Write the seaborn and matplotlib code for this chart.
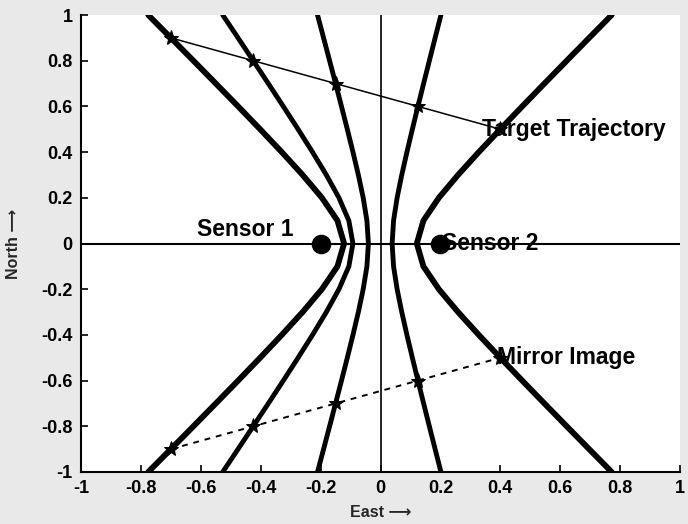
import numpy as np
import pandas as pd
import matplotlib
matplotlib.use("Agg")
import matplotlib.pyplot as plt
import seaborn as sns

# Sensor positions (East, North)
sensor_x = [-0.2, 0.2]
sensor_y = [0.0, 0.0]
sensor_names = ["Sensor 1", "Sensor 2"]

# Target trajectory samples
traj_x = [-0.7, -0.425, -0.15, 0.125, 0.4]
traj_y = [0.9, 0.8, 0.7, 0.6, 0.5]

# Mirror image of the trajectory about the sensor baseline
mirror_x = traj_x
mirror_y = [-v for v in traj_y]

ticks = [-1, -0.8, -0.6, -0.4, -0.2, 0, 0.2, 0.4, 0.6, 0.8, 1]
tick_labels = ["-1", "-0.8", "-0.6", "-0.4", "-0.2", "0", "0.2", "0.4", "0.6", "0.8", "1"]

sns.set_style("ticks")
plt.rcParams["font.family"] = ["Liberation Sans", "DejaVu Sans"]

fig = plt.figure(figsize=(6.88, 5.24), dpi=100, facecolor="#e9e9e9")
ax = fig.add_axes([81 / 688, 1 - 472 / 524, 599 / 688, 457 / 524])
ax.set_facecolor("white")

# Time-difference-of-arrival hyperbolas through each trajectory sample
c = (sensor_x[1] - sensor_x[0]) / 2.0
y_grid = np.arange(-1.0, 1.0001, 0.1)
rows = []
for k, (px, py) in enumerate(zip(traj_x, traj_y)):
    d1 = np.hypot(px - sensor_x[0], py - sensor_y[0])
    d2 = np.hypot(px - sensor_x[1], py - sensor_y[1])
    a = abs(d1 - d2) / 2.0
    b = np.sqrt(c ** 2 - a ** 2)
    side = np.sign(px)
    xs = side * a * np.sqrt(1 + (y_grid / b) ** 2)
    for xv, yv in zip(xs, y_grid):
        rows.append({"hyp": k, "x": xv, "y": yv})
hyp = pd.DataFrame(rows)

widths = [4.2, 3.5, 3.5, 3.5, 4.2]
for k in range(len(traj_x)):
    sub = hyp[hyp["hyp"] == k]
    sns.lineplot(data=sub, x="x", y="y", sort=False, estimator=None,
                 color="black", lw=widths[k], ax=ax, zorder=3)

# Baseline and centre axis
ax.axhline(0, color="black", lw=1.5, zorder=2)
ax.axvline(0, color="black", lw=1.2, zorder=2)

# Trajectory and its mirror image
traj = pd.DataFrame({"x": traj_x, "y": traj_y})
mirr = pd.DataFrame({"x": mirror_x, "y": mirror_y})
sns.lineplot(data=traj, x="x", y="y", sort=False, estimator=None, color="black",
             lw=1.1, marker="*", markersize=11, markeredgecolor="black", ax=ax, zorder=4)
sns.lineplot(data=mirr, x="x", y="y", sort=False, estimator=None, color="black",
             lw=1.4, ls=(0, (3, 3)), marker="*", markersize=11, markeredgecolor="black",
             ax=ax, zorder=4)

# Sensors
sns.scatterplot(x=sensor_x, y=sensor_y, s=170, color="black", edgecolor="black",
                ax=ax, zorder=5)

txt = dict(fontsize=16.5, fontweight="bold", color="black", zorder=6)
ax.text(-0.29, 0.06, sensor_names[0], ha="right", va="center", **txt)
ax.text(0.205, 0.0, sensor_names[1], ha="left", va="center", **txt)
ax.text(0.34, 0.5, "Target Trajectory", ha="left", va="center", **txt)
ax.text(0.39, -0.5, "Mirror Image", ha="left", va="center", **txt)

ax.set_xlim(-1, 1)
ax.set_ylim(-1, 1)
ax.set_xticks(ticks)
ax.set_xticklabels(tick_labels)
ax.set_yticks(ticks)
ax.set_yticklabels(tick_labels)
ax.tick_params(direction="in", length=5, width=1.2, labelsize=13, pad=6, colors="black")
for lab in ax.get_xticklabels() + ax.get_yticklabels():
    lab.set_fontweight("bold")

ax.set_xlabel("East ⟶", fontsize=11.5, fontweight="bold")
ax.set_ylabel("North ⟶", fontsize=11.5, fontweight="bold")
ax.xaxis.set_label_coords(0.5, -0.072)
ax.yaxis.set_label_coords(-0.100, 0.5)

for s in ["top", "right"]:
    ax.spines[s].set_visible(False)
for s in ["left", "bottom"]:
    ax.spines[s].set_color("black")
    ax.spines[s].set_linewidth(1.5)

fig.savefig("out.png", dpi=100, facecolor=fig.get_facecolor())
